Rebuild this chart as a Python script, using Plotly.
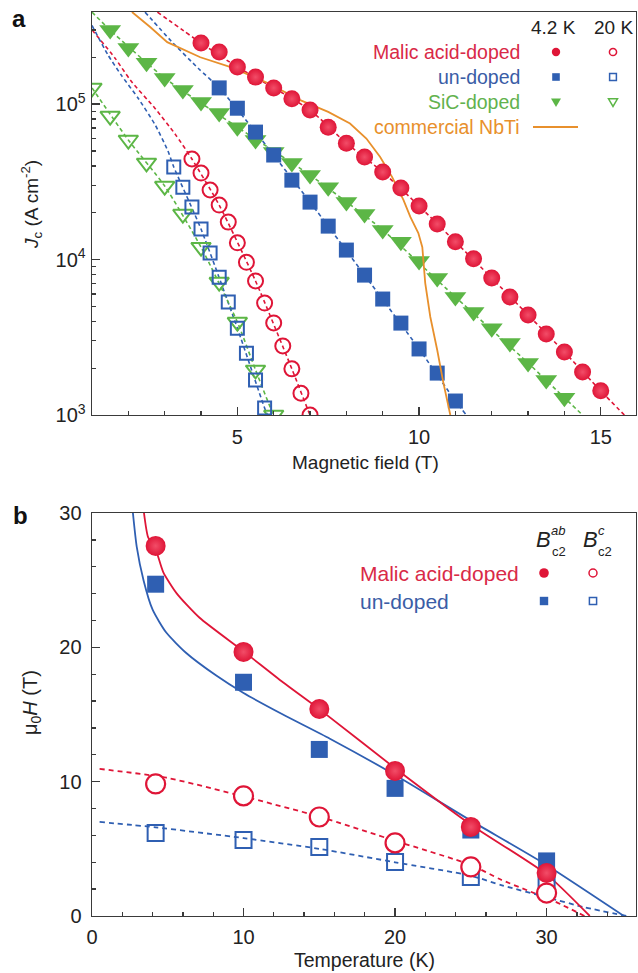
import plotly.graph_objects as go

# ---------------- Panel a data (Jc vs B) ----------------
B_malic_42 = [4.0, 4.5, 5.0, 5.5, 6.0, 6.5, 7.0, 7.5, 8.0, 8.5, 9.0, 9.5, 10.0, 10.5,
              11.0, 11.5, 12.0, 12.5, 13.0, 13.5, 14.0, 14.5, 15.0]
Jc_malic_42 = [2.47e5, 2.16e5, 1.73e5, 1.49e5, 1.27e5, 1.08e5, 9.15e4, 7.1e4, 5.6e4, 4.56e4,
               3.65e4, 2.88e4, 2.21e4, 1.69e4, 1.30e4, 1.01e4, 7.6e3, 5.74e3, 4.4e3, 3.32e3,
               2.54e3, 1.89e3, 1.43e3]

B_undoped_42 = [4.5, 5.0, 5.5, 6.0, 6.5, 7.0, 7.5, 8.0, 8.5, 9.0, 9.5, 10.0, 10.5, 11.0]
Jc_undoped_42 = [1.27e5, 9.4e4, 6.6e4, 4.7e4, 3.24e4, 2.34e4, 1.64e4, 1.15e4, 7.94e3, 5.57e3,
                 3.9e3, 2.66e3, 1.86e3, 1.23e3]

B_sic_42 = [1.5, 2.0, 2.5, 3.0, 3.5, 4.0, 4.5, 5.0, 5.5, 6.0, 6.5, 7.0, 7.5, 8.0, 8.5, 9.0,
            9.5, 10.0, 10.5, 11.0, 11.5, 12.0, 12.5, 13.0, 13.5, 14.0]
Jc_sic_42 = [2.99e5, 2.29e5, 1.84e5, 1.47e5, 1.23e5, 1.03e5, 8.75e4, 7.1e4, 5.87e4, 4.91e4,
             4.18e4, 3.49e4, 2.92e4, 2.34e4, 1.96e4, 1.55e4, 1.30e4, 9.8e3, 7.6e3, 5.74e3,
             4.6e3, 3.62e3, 2.9e3, 2.16e3, 1.68e3, 1.29e3]

B_malic_20 = [3.75, 4.0, 4.25, 4.5, 4.75, 5.0, 5.25, 5.5, 5.75, 6.0, 6.25, 6.5, 6.75, 7.0]
Jc_malic_20 = [4.43e4, 3.6e4, 2.8e4, 2.24e4, 1.74e4, 1.28e4, 9.6e3, 7.28e3, 5.25e3, 3.91e3,
               2.78e3, 1.98e3, 1.38e3, 1.0e3]

B_undoped_20 = [3.25, 3.5, 3.75, 4.0, 4.25, 4.5, 4.75, 5.0, 5.25, 5.5, 5.75]
Jc_undoped_20 = [3.94e4, 2.92e4, 2.18e4, 1.57e4, 1.10e4, 7.7e3, 5.33e3, 3.62e3, 2.5e3, 1.68e3, 1.11e3]

B_sic_20 = [1.0, 1.5, 2.0, 2.5, 3.0, 3.5, 4.0, 4.5, 5.0, 5.5, 6.0]
Jc_sic_20 = [1.27e5, 8.37e4, 5.87e4, 4.18e4, 2.97e4, 1.96e4, 1.20e4, 7.16e3, 3.96e3, 1.95e3, 1.0e3]

B_nbti = [2.10, 2.60, 3.07, 3.42, 3.98, 4.88, 5.82, 6.73, 7.50, 8.10, 8.55, 8.93, 9.26, 9.57,
          9.76, 9.98, 10.09, 10.17, 10.31, 10.50, 10.67, 10.86]
Jc_nbti = [3.91e5, 3.13e5, 2.5e5, 2.29e5, 2.0e5, 1.71e5, 1.37e5, 1.06e5, 8.9e4, 7.5e4, 6.0e4,
           4.56e4, 3.39e4, 2.42e4, 1.88e4, 1.48e4, 1.20e4, 7.06e3, 4.27e3, 2.62e3, 1.61e3, 1.0e3]

# fitted (dashed) curves
B_malic_42_fit = [2.8, 4.0, 5.0, 6.0, 7.0, 8.0, 9.0, 10.0, 11.0, 12.0, 13.0, 14.0, 15.0, 15.65]
J_malic_42_fit = [3.9e5, 2.47e5, 1.73e5, 1.27e5, 9.15e4, 5.6e4, 3.65e4, 2.21e4, 1.30e4, 7.6e3,
                  4.4e3, 2.54e3, 1.43e3, 1.0e3]
B_undoped_42_fit = [2.46, 3.18, 3.92, 4.5, 5.5, 7.0, 8.5, 10.0, 11.0, 11.3]
J_undoped_42_fit = [3.9e5, 2.54e5, 1.70e5, 1.27e5, 6.6e4, 2.34e4, 7.94e3, 2.66e3, 1.23e3, 1.0e3]
B_sic_42_fit = [1.0, 1.5, 3.0, 5.0, 7.0, 9.0, 11.0, 13.0, 14.0, 14.5]
J_sic_42_fit = [3.9e5, 2.99e5, 1.47e5, 7.1e4, 3.49e4, 1.55e4, 5.74e3, 2.16e3, 1.29e3, 1.0e3]
B_malic_20_fit = [1.0, 1.63, 2.07, 2.73, 3.29, 3.75, 4.5, 5.5, 6.5, 7.0, 7.15]
J_malic_20_fit = [3.0e5, 1.98e5, 1.41e5, 9.4e4, 6.4e4, 4.43e4, 2.24e4, 7.28e3, 1.98e3, 1.0e3, 8.5e2]
B_undoped_20_fit = [1.0, 1.44, 1.80, 2.27, 2.74, 3.09, 3.25, 4.0, 5.0, 5.75, 5.95]
J_undoped_20_fit = [3.2e5, 2.07e5, 1.54e5, 1.09e5, 7.33e4, 4.99e4, 3.94e4, 1.57e4, 3.62e3, 1.11e3, 8.5e2]
B_sic_20_fit = [1.0, 2.0, 3.0, 4.0, 5.0, 5.5, 6.0, 6.2]
J_sic_20_fit = [1.27e5, 5.87e4, 2.97e4, 1.20e4, 3.96e3, 1.95e3, 1.0e3, 8.5e2]

# ---------------- Panel b data (Bc2 vs T) ----------------
T_pts = [4.2, 10, 15, 20, 25, 30]
Hab_malic = [27.55, 19.66, 15.41, 10.80, 6.63, 3.20]
Hab_undoped = [24.7, 17.4, 12.4, 9.5, 6.4, 4.1]
Hc_malic = [9.83, 8.94, 7.37, 5.44, 3.65, 1.71]
Hc_undoped = [6.18, 5.66, 5.14, 4.02, 2.90, 2.25]

T_ab_malic_fit = [3.43, 3.7, 4.2, 4.7, 5.6, 7.1, 10, 12.6, 15, 20, 25, 30, 32.85]
H_ab_malic_fit = [30, 28.2, 27.3, 25.6, 24.0, 22.2, 19.7, 17.4, 15.4, 11.0, 6.8, 3.1, 0]
T_ab_undoped_fit = [2.7, 2.95, 3.4, 4.0, 4.9, 6.2, 8.2, 10, 12.6, 15.7, 20, 25, 29.7, 35.1]
H_ab_undoped_fit = [30, 27.5, 25.0, 22.8, 21.1, 19.6, 17.9, 16.6, 15.0, 13.2, 10.5, 7.1, 4.0, 0]
T_c_malic_fit = [0.5, 4.9, 10, 15, 20, 25, 27, 30.6, 32.5]
H_c_malic_fit = [10.95, 10.3, 8.9, 7.4, 5.6, 3.8, 2.7, 1.05, 0]
T_c_undoped_fit = [0.5, 4.2, 10, 15, 20, 25, 27, 30, 32.5, 35.3]
H_c_undoped_fit = [7.0, 6.6, 5.8, 5.0, 4.0, 3.0, 2.3, 1.4, 0.65, 0]

# ---------------- styling ----------------
RED = "#df1537"
RED_T = "#d92a47"
BLUE = "#2f5fb2"
BLUE_T = "#3a5da6"
GREEN = "#5cb646"
GREEN_T = "#62b24e"
ORANGE = "#e8902c"
AX = "#3a3a3a"
FONT = "Liberation Sans, Arial, sans-serif"
SPHERE_HI = "#f24d68"

L, R, T, BOT = 92, 2, 12, 57
W, H = 638, 973
PW, PH = W - L - R, H - T - BOT


def px(x):
    return (x - L) / PW


def py(y):
    return (H - BOT - y) / PH


fig = go.Figure()

dash_a = "4px,3px"


def line_a(x, y, color, xa="x", ya="y", dash=dash_a, width=1.6):
    fig.add_trace(go.Scatter(x=x, y=y, mode="lines", xaxis=xa, yaxis=ya,
                             line=dict(color=color, width=width, dash=dash, shape="spline",
                                       smoothing=0.6),
                             hoverinfo="skip", showlegend=False))


# panel a fits
line_a(B_malic_20_fit, J_malic_20_fit, RED)
line_a(B_undoped_20_fit, J_undoped_20_fit, BLUE)
line_a(B_sic_20_fit, J_sic_20_fit, GREEN)
line_a(B_malic_42_fit, J_malic_42_fit, RED)
line_a(B_undoped_42_fit, J_undoped_42_fit, BLUE)
line_a(B_sic_42_fit, J_sic_42_fit, GREEN)

# panel a data
fig.add_trace(go.Scatter(x=B_sic_20, y=Jc_sic_20, mode="markers", showlegend=False,
                         marker=dict(symbol="triangle-down-open", size=17, color=GREEN,
                                     line=dict(width=2, color=GREEN))))
fig.add_trace(go.Scatter(x=B_undoped_20, y=Jc_undoped_20, mode="markers", showlegend=False,
                         marker=dict(symbol="square-open", size=13, color=BLUE,
                                     line=dict(width=2, color=BLUE))))
fig.add_trace(go.Scatter(x=B_malic_20, y=Jc_malic_20, mode="markers", showlegend=False,
                         marker=dict(symbol="circle-open", size=15, color=RED,
                                     line=dict(width=2, color=RED))))
fig.add_trace(go.Scatter(x=B_sic_42, y=Jc_sic_42, mode="markers", showlegend=False,
                         marker=dict(symbol="triangle-down", size=19, color=GREEN,
                                     line=dict(width=0))))
fig.add_trace(go.Scatter(x=B_undoped_42, y=Jc_undoped_42, mode="markers", showlegend=False,
                         marker=dict(symbol="square", size=15, color=BLUE, line=dict(width=0))))
fig.add_trace(go.Scatter(x=B_nbti, y=Jc_nbti, mode="lines", showlegend=False,
                         line=dict(color=ORANGE, width=1.8)))
fig.add_trace(go.Scatter(x=B_malic_42, y=Jc_malic_42, mode="markers", showlegend=False,
                         marker=dict(color=RED, size=17, line=dict(width=0),
                                     gradient=dict(type="radial", color=SPHERE_HI))))

# panel b curves
line_a(T_c_malic_fit, H_c_malic_fit, RED, "x2", "y2", "5px,4px", 1.8)
line_a(T_c_undoped_fit, H_c_undoped_fit, BLUE, "x2", "y2", "5px,4px", 1.8)
line_a(T_ab_undoped_fit, H_ab_undoped_fit, BLUE, "x2", "y2", "solid", 1.8)
line_a(T_ab_malic_fit, H_ab_malic_fit, RED, "x2", "y2", "solid", 1.8)

fig.add_trace(go.Scatter(x=T_pts, y=Hc_undoped, xaxis="x2", yaxis="y2", mode="markers",
                         showlegend=False,
                         marker=dict(symbol="square-open", size=16, color=BLUE,
                                     line=dict(width=2, color=BLUE))))
fig.add_trace(go.Scatter(x=T_pts, y=Hc_malic, xaxis="x2", yaxis="y2", mode="markers",
                         showlegend=False,
                         marker=dict(symbol="circle", size=19, color="white",
                                     line=dict(width=2.2, color=RED))))
fig.add_trace(go.Scatter(x=T_pts, y=Hab_undoped, xaxis="x2", yaxis="y2", mode="markers",
                         showlegend=False,
                         marker=dict(symbol="square", size=17, color=BLUE, line=dict(width=0))))
fig.add_trace(go.Scatter(x=T_pts, y=Hab_malic, xaxis="x2", yaxis="y2", mode="markers",
                         showlegend=False,
                         marker=dict(color=RED, size=20, line=dict(width=0),
                                     gradient=dict(type="radial", color=SPHERE_HI))))

tickfont = dict(family=FONT, size=20, color="#222")
common = dict(showline=True, linecolor=AX, linewidth=1.4, mirror=True, ticks="inside",
              tickcolor=AX, tickwidth=1.3, ticklen=8, showgrid=False, zeroline=False,
              tickfont=tickfont, automargin=False)

minor_log = [2e3, 3e3, 4e3, 5e3, 6e3, 7e3, 8e3, 9e3, 2e4, 3e4, 4e4, 5e4, 6e4, 7e4, 8e4, 9e4,
             2e5, 3e5]

fig.update_layout(
    width=W, height=H, margin=dict(l=L, r=R, t=T, b=BOT, autoexpand=False),
    paper_bgcolor="white", plot_bgcolor="white",
    font=dict(family=FONT, color="#222"),
    xaxis=dict(domain=[0, 1], anchor="y", range=[1, 15.97], tickvals=[5, 10, 15],
               ticklabelstandoff=4,
               minor=dict(ticks="inside", ticklen=4, tickcolor=AX, dtick=1, tick0=0), **common),
    yaxis=dict(domain=[py(415), 1], anchor="x", type="log", range=[3, 5.592],
               tickvals=[1e3, 1e4, 1e5], ticklabelstandoff=1,
               ticktext=["10<sup>3</sup>", "10<sup>4</sup>", "10<sup>5</sup>"],
               minor=dict(ticks="inside", ticklen=4, tickcolor=AX, tickvals=minor_log), **common),
    xaxis2=dict(domain=[0, 1], anchor="y2", range=[0, 35.9], tickvals=[0, 10, 20, 30],
                ticklabelstandoff=3,
                minor=dict(ticks="inside", ticklen=4, tickcolor=AX, dtick=2, tick0=0), **common),
    yaxis2=dict(domain=[0, py(513)], anchor="x2", range=[0, 30], tickvals=[0, 10, 20, 30],
                ticklabelstandoff=5,
                minor=dict(ticks="inside", ticklen=4, tickcolor=AX, dtick=2, tick0=0), **common),
)

ann = []


def text(x, y, s, size=20, color="#222", xanchor="center", angle=0):
    ann.append(dict(x=px(x), y=py(y), xref="paper", yref="paper", text=s, showarrow=False,
                    xanchor=xanchor, yanchor="middle", textangle=angle,
                    font=dict(family=FONT, size=size, color=color)))


# panel labels
text(19, 19, "<b>a</b>", size=24, color="#111")
text(20, 515, "<b>b</b>", size=24, color="#111")

# axis titles
text(365, 462, "Magnetic field (T)", size=19)
text(364, 960, "Temperature (K)", size=19.5)
text(31, 205, "<i>J</i><sub>c</sub> (A cm<sup>-2</sup>)", size=19, angle=-90)
text(31, 703, "μ<sub>0</sub><i>H</i> (T)", size=20, angle=-90)

# legend a
text(553, 27, "4.2 K", size=19)
text(613, 27, "20 K", size=19)
text(522, 52, "Malic acid-doped", size=19.5, color=RED_T, xanchor="right")
text(522, 77, "un-doped", size=19.5, color=BLUE_T, xanchor="right")
text(522, 102, "SiC-doped", size=19.5, color=GREEN_T, xanchor="right")
text(522, 127, "commercial NbTi", size=19.5, color=ORANGE, xanchor="right")

# legend b
text(358, 573, "Malic acid-doped", size=21, color=RED_T, xanchor="left")
text(358, 601, "un-doped", size=21, color=BLUE_T, xanchor="left")
text(543, 539, "<i>B</i>", size=22)
text(558, 530, "<i>ab</i>", size=13)
text(559, 552, "c2", size=13)
text(590, 539, "<i>B</i>", size=22)
text(601, 530, "<i>c</i>", size=13)
text(605, 552, "c2", size=13)

fig.update_layout(annotations=ann)

shapes = []


def circ(cx, cy, r, color, filled):
    shapes.append(dict(type="circle", xref="paper", yref="paper",
                       x0=px(cx - r), x1=px(cx + r), y0=py(cy + r), y1=py(cy - r),
                       line=dict(color=color, width=1.5 if not filled else 0),
                       fillcolor=color if filled else "rgba(0,0,0,0)"))


def rect(cx, cy, r, color, filled):
    shapes.append(dict(type="rect", xref="paper", yref="paper",
                       x0=px(cx - r), x1=px(cx + r), y0=py(cy + r), y1=py(cy - r),
                       line=dict(color=color, width=1.5 if not filled else 0),
                       fillcolor=color if filled else "rgba(0,0,0,0)"))


def tri(cx, cy, r, color, filled):
    path = "M {} {} L {} {} L {} {} Z".format(px(cx - r), py(cy - r * 0.7), px(cx + r),
                                               py(cy - r * 0.7), px(cx), py(cy + r))
    shapes.append(dict(type="path", xref="paper", yref="paper", path=path,
                       line=dict(color=color, width=1.5 if not filled else 0),
                       fillcolor=color if filled else "rgba(0,0,0,0)"))


circ(556, 52, 4.2, RED, True)
circ(613, 52, 3.6, RED, False)
rect(556, 77, 3.8, BLUE, True)
rect(613, 77, 3.4, BLUE, False)
tri(556, 102, 5, GREEN, True)
tri(613, 102, 4.5, GREEN, False)
shapes.append(dict(type="line", xref="paper", yref="paper", x0=px(533), x1=px(578),
                   y0=py(127), y1=py(127), line=dict(color=ORANGE, width=1.8)))

circ(544, 573, 4.8, RED, True)
circ(593, 573, 4.0, RED, False)
rect(544, 601, 4.2, BLUE, True)
rect(593, 601, 3.6, BLUE, False)

fig.update_layout(shapes=shapes)

fig.write_html(
    "out.html",
    config={"displayModeBar": False, "staticPlot": True},
    post_script="document.body.style.margin='0px';document.body.style.overflow='hidden';",
)
